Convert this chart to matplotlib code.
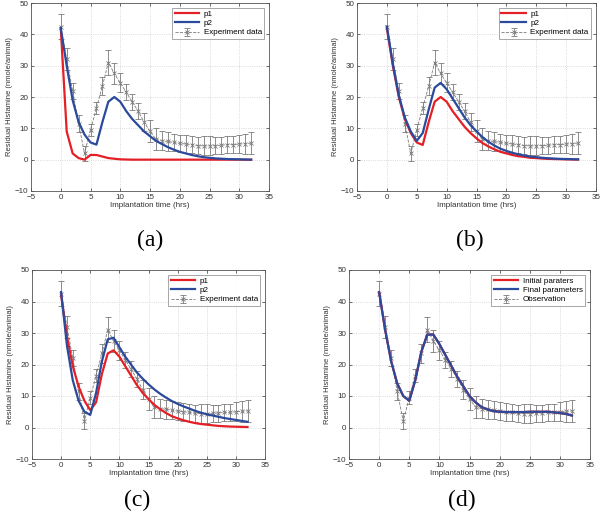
import matplotlib
matplotlib.use("Agg")
import matplotlib.pyplot as plt
import numpy as np

plt.rcParams['font.family'] = ['Liberation Sans', 'DejaVu Sans']

t = list(range(0, 33))
obs = [42.5, 32, 22, 11.5, 2, 9.5, 16.5, 23.5, 31, 27.5, 24.5, 21.5, 18.5, 15.5, 12, 9,
       6.5, 6, 5.8, 5.5, 5.2, 5, 4.8, 4.5, 4.4, 4.4, 4.5, 4.6, 4.8, 4.8, 5, 5.1, 5.3]
obs_err = [4, 3.5, 2.5, 2.7, 2.5, 2, 2, 3, 4, 3.5, 3, 2.5, 2.5, 2.5, 3, 3.5,
           3.5, 3, 3, 2.8, 2.8, 2.8, 2.7, 2.8, 3, 3, 2.8, 2.7, 2.8, 2.8, 3, 3.2, 3.5]

a_p1 = [42, 9, 2, 0.5, 0, 1.5, 1.5, 1, 0.5, 0.3, 0.1, 0.05, 0, 0, 0, 0,
        0, 0, 0, 0, 0, 0, 0, 0, 0, 0, 0, 0, 0, 0, 0, 0, 0]
a_p2 = [42, 30, 19, 12, 8, 5.5, 4.8, 12, 18.5, 20, 18.5, 15.5, 13, 11, 9, 7.5,
        6, 5, 4, 3.2, 2.5, 2, 1.5, 1.1, 0.8, 0.6, 0.4, 0.3, 0.2, 0.15, 0.1, 0.05, 0]

b_p1 = [42, 30, 20, 13, 8.5, 5.5, 4.7, 12, 18.5, 20, 18.5, 15.5, 13, 10.5, 8.5, 6.8,
        5.3, 4.2, 3.3, 2.5, 2, 1.5, 1.1, 0.9, 0.6, 0.5, 0.35, 0.25, 0.2, 0.15, 0.1, 0.05, 0.02]
b_p2 = [42.5, 30.5, 20.5, 13.5, 9, 6, 8.5, 16, 23, 24.5, 22.5, 19.5, 16.5, 13.5, 11, 9,
        7.2, 5.7, 4.5, 3.5, 2.8, 2.2, 1.7, 1.3, 1, 0.8, 0.6, 0.45, 0.35, 0.25, 0.2, 0.15, 0.1]

c_p1 = [42, 29, 19.5, 13, 8.5, 5.5, 8, 17, 23.5, 24.5, 22.5, 19.5, 16.5, 13.5, 11, 9,
        7.2, 5.8, 4.6, 3.6, 2.9, 2.3, 1.8, 1.4, 1.1, 0.9, 0.7, 0.5, 0.4, 0.3, 0.25, 0.2, 0.15]
c_p2 = [43, 26, 15, 8.5, 5, 4, 11, 21, 28, 28.5, 25.5, 22.5, 20, 17.5, 15.5, 13.7,
        12.1, 10.7, 9.5, 8.4, 7.5, 6.7, 6, 5.3, 4.7, 4.2, 3.8, 3.4, 3, 2.7, 2.4, 2.1, 1.8]

d_final = [43, 31, 21, 14, 10, 8.5, 15, 24, 29.5, 29.5, 26.5, 23, 19.5, 16, 13, 10,
           8, 6.5, 5.7, 5.2, 5, 4.9, 4.9, 4.9, 4.9, 5, 5, 5, 5, 4.8, 4.6, 4.3, 3.8]
d_init = d_final

RED = '#e41f26'
BLUE = '#2b4a9b'
GRAY = '#7a7a7a'

fig = plt.figure(figsize=(6, 5.17), dpi=100)

def axes_px(l, r, top, bot):
    return fig.add_axes([l / 600, 1 - bot / 517, (r - l) / 600, (bot - top) / 517])

def style(ax):
    ax.set_xlim(-5, 35)
    ax.set_ylim(-10, 50)
    ax.set_xticks(range(-5, 36, 5))
    ax.set_yticks(range(-10, 51, 10))
    ax.tick_params(direction='in', labelsize=5.8, length=2.5, width=0.5,
                   top=True, right=True, pad=2, colors='#333333')
    ax.grid(True, linestyle=':', color='#cfcfcf', linewidth=0.6)
    for s in ax.spines.values():
        s.set_linewidth(0.6)
        s.set_color('#555555')
    ax.set_xlabel('Implantation time (hrs)', fontsize=5.8, labelpad=1, color='#333333')
    ax.set_ylabel('Residual Histamine (nmole/animal)', fontsize=5.5, labelpad=1.5, color='#333333')

def obs_plot(ax, label):
    ax.errorbar(t, obs, yerr=obs_err, fmt='--', marker='x', ms=3, mew=0.6,
                color=GRAY, ecolor=GRAY, elinewidth=0.6, capsize=2, capthick=0.6,
                lw=0.6, label=label, zorder=2)

panels = [
    ((31, 269, 3, 191), a_p1, a_p2, ['p1', 'p2', 'Experiment data'], '(a)', (150, 240)),
    ((357, 596, 3, 191), b_p1, b_p2, ['p1', 'p2', 'Experiment data'], '(b)', (470, 240)),
    ((32, 265, 270, 459), c_p1, c_p2, ['p1', 'p2', 'Experiment data'], '(c)', (137, 500)),
    ((349, 590, 270, 459), d_init, d_final, ['Initial paraters', 'Final parameters', 'Observation'], '(d)', (462, 500)),
]

for (l, r, top, bot), s1, s2, labels, tag, (tx, ty) in panels:
    ax = axes_px(l, r, top, bot)
    style(ax)
    ax.plot(t, s1, color=RED, lw=1.6, label=labels[0], zorder=3)
    ax.plot(t, s2, color=BLUE, lw=1.6, label=labels[1], zorder=4)
    obs_plot(ax, labels[2])
    leg = ax.legend(loc='upper right', fontsize=5.8, frameon=True, fancybox=False,
                    edgecolor='#666666', borderpad=0.3, labelspacing=0.2,
                    handlelength=3.0, handletextpad=0.6, borderaxespad=0.6)
    leg.get_frame().set_linewidth(0.5)
    fig.text(tx / 600, 1 - ty / 517, tag, fontsize=17, family='Liberation Serif',
             ha='center', va='center')

fig.savefig('out.png', dpi=100)
